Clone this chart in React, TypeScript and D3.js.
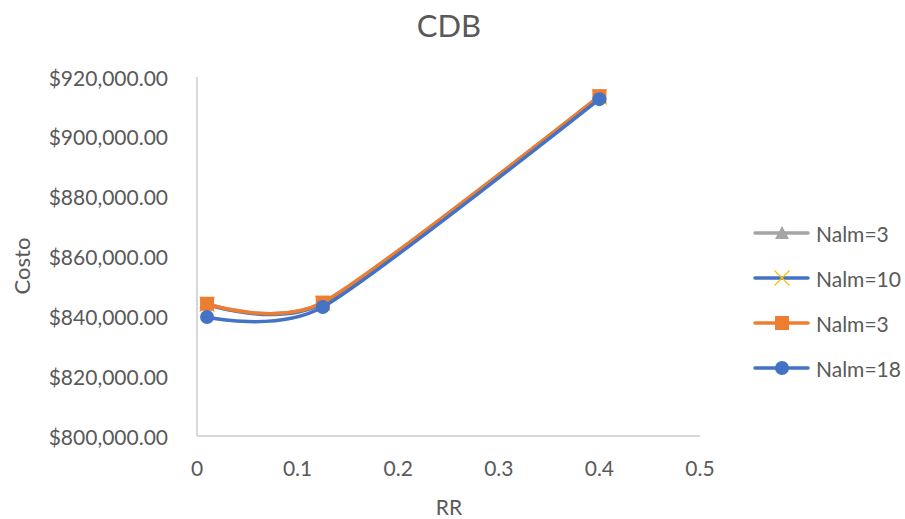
import React from "react";
import * as d3 from "d3";

// Reflux ratio (RR) values and total cost for each Nalm configuration
const rr = [0.01, 0.125, 0.4];
const seriesNames = ["Nalm=3", "Nalm=10", "Nalm=3", "Nalm=18"];
const costNalm3a = [844200, 844600, 913600];
const costNalm10 = [844000, 844300, 913300];
const costNalm3b = [844200, 844600, 913600];
const costNalm18 = [839800, 843100, 912600];
const xTicks = [0, 0.1, 0.2, 0.3, 0.4, 0.5];
const yTicks = [800000, 820000, 840000, 860000, 880000, 900000, 920000];

const W = 905;
const H = 519;
const plot = { left: 197, right: 700, top: 77, bottom: 436 };
const FONT = "Lato, 'Open Sans', sans-serif";
const TEXT = "#595959";

type Marker = "triangle" | "x" | "square" | "circle";
const styles: { line: string; marker: Marker; markerColor: string }[] = [
  { line: "#a5a5a5", marker: "triangle", markerColor: "#a5a5a5" },
  { line: "#4472c4", marker: "x", markerColor: "#ffc000" },
  { line: "#ed7d31", marker: "square", markerColor: "#ed7d31" },
  { line: "#4472c4", marker: "circle", markerColor: "#4472c4" },
];
const seriesValues = [costNalm3a, costNalm10, costNalm3b, costNalm18];

function MarkerShape({ kind, x, y, color }: { kind: Marker; x: number; y: number; color: string }) {
  if (kind === "circle") return <circle cx={x} cy={y} r={7} fill={color} />;
  if (kind === "square") return <rect x={x - 7} y={y - 7} width={14} height={14} fill={color} />;
  if (kind === "triangle")
    return <path d={`M${x},${y - 7}L${x + 7},${y + 6}L${x - 7},${y + 6}Z`} fill={color} />;
  return (
    <path
      d={`M${x - 7.5},${y - 7.5}L${x + 7.5},${y + 7.5}M${x - 7.5},${y + 7.5}L${x + 7.5},${y - 7.5}`}
      stroke={color}
      strokeWidth={1.3}
      fill="none"
    />
  );
}

export default function App() {
  const x = d3.scaleLinear().domain([0, 0.5]).range([plot.left, plot.right]);
  const y = d3.scaleLinear().domain([800000, 920000]).range([plot.bottom, plot.top]);
  const fmt = (v: number) => "$" + d3.format(",.2f")(v);

  // smoothed line, similar to spreadsheet "smoothed line" rendering
  const line = d3
    .line<number>()
    .x((_, i) => x(rr[i]))
    .y((d) => y(d))
    .curve(d3.curveCardinal.tension(0.3));

  const legendY = [233, 278, 323, 368];

  return (
    <svg
      width={W}
      height={H}
      style={{ position: "absolute", left: 0, top: 0, background: "#fff" }}
      fontFamily={FONT}
    >
      <rect width={W} height={H} fill="#fff" />
      <text x={449} y={25} textAnchor="middle" dominantBaseline="central" fontSize={31} fill={TEXT}>
        CDB
      </text>

      {/* axes */}
      <line x1={plot.left} x2={plot.left} y1={plot.top} y2={plot.bottom} stroke="#d9d9d9" strokeWidth={2} />
      <line x1={plot.left} x2={plot.right} y1={plot.bottom} y2={plot.bottom} stroke="#d9d9d9" strokeWidth={2} />

      {yTicks.map((t) => (
        <text
          key={t}
          x={168}
          y={y(t)}
          textAnchor="end"
          dominantBaseline="central"
          fontSize={21}
          fill={TEXT}
        >
          {fmt(t)}
        </text>
      ))}
      {xTicks.map((t) => (
        <text key={t} x={x(t)} y={467} textAnchor="middle" dominantBaseline="central" fontSize={21} fill={TEXT}>
          {d3.format("")(t)}
        </text>
      ))}

      <text x={449} y={506} textAnchor="middle" dominantBaseline="central" fontSize={21} fill={TEXT}>
        RR
      </text>
      <text
        transform={`translate(21,266) rotate(-90)`}
        textAnchor="middle"
        dominantBaseline="central"
        fontSize={22}
        fill={TEXT}
      >
        Costo
      </text>

      {/* series */}
      {seriesValues.map((vals, si) => (
        <g key={si}>
          <path d={line(vals) ?? ""} fill="none" stroke={styles[si].line} strokeWidth={3.5} strokeLinecap="round" />
          {vals.map((v, i) => (
            <MarkerShape key={i} kind={styles[si].marker} x={x(rr[i])} y={y(v)} color={styles[si].markerColor} />
          ))}
        </g>
      ))}

      {/* legend */}
      {seriesNames.map((name, si) => (
        <g key={si}>
          <line x1={755} x2={808} y1={legendY[si]} y2={legendY[si]} stroke={styles[si].line} strokeWidth={3.5} strokeLinecap="round" />
          <MarkerShape kind={styles[si].marker} x={782} y={legendY[si]} color={styles[si].markerColor} />
          <text x={816} y={legendY[si]} dominantBaseline="central" fontSize={21} fill={TEXT}>
            {name}
          </text>
        </g>
      ))}
    </svg>
  );
}
